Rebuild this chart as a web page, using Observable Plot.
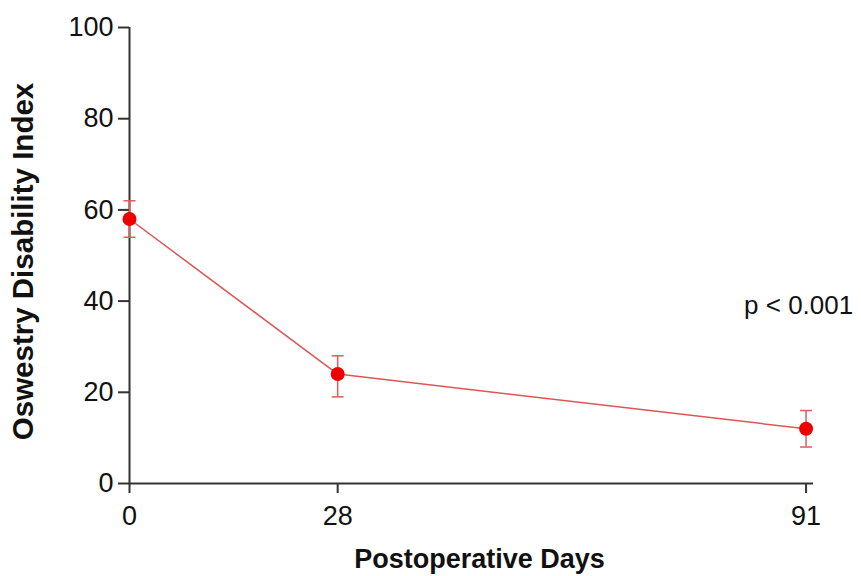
<!DOCTYPE html>
<html>
<head>
<meta charset="utf-8">
<script src="https://cdn.jsdelivr.net/npm/d3@7"></script>
<script src="https://cdn.jsdelivr.net/npm/@observablehq/plot@0.6"></script>
<style>
  body { margin: 0; background: #fff; }
  #chart svg { font-family: Arial, "Liberation Sans", sans-serif; }
</style>
</head>
<body>
<div id="chart"></div>
<script>
const days = [0, 28, 91];
const odiMean = [58, 24, 12];
const odiLow = [54, 19, 8];
const odiHigh = [62, 28, 16];
const xTicks = [0, 28, 91];
const yTicks = [0, 20, 40, 60, 80, 100];
const xLabel = "Postoperative Days";
const yLabel = "Oswestry Disability Index";
const annotation = [{day: 90, value: 39, label: "p < 0.001"}];

const data = days.map((d, i) => ({day: d, mean: odiMean[i], lo: odiLow[i], hi: odiHigh[i]}));

const capSymbol = {
  draw(ctx, size) {
    const w = Math.sqrt(size / Math.PI);
    ctx.moveTo(-w, 0);
    ctx.lineTo(w, 0);
  }
};

const lineColor = "#dd5555";
const errColor = "#e05a5a";
const dotColor = "#ee0000";
const axisColor = "#333333";

const chart = Plot.plot({
  width: 861,
  height: 576,
  marginLeft: 129,
  marginRight: 48,
  marginTop: 27,
  marginBottom: 93,
  style: {fontSize: "27px", fontFamily: "Arial, 'Liberation Sans', sans-serif", color: "#111", background: "#fff"},
  x: {domain: [0, 92], ticks: xTicks},
  y: {domain: [0, 100], ticks: yTicks},
  marks: [
    Plot.axisY({ticks: yTicks, tickSize: 11, tickPadding: 5, label: null, stroke: axisColor, strokeWidth: 2, fontSize: 27}),
    Plot.axisX({ticks: xTicks, tickSize: 10, tickPadding: 12, label: null, stroke: axisColor, strokeWidth: 2, fontSize: 27}),
    Plot.ruleX([0], {y1: 0, y2: 100, stroke: axisColor, strokeWidth: 2}),
    Plot.ruleY([0], {x1: 0, x2: 92, stroke: axisColor, strokeWidth: 2}),
    Plot.line(data, {x: "day", y: "mean", stroke: lineColor, strokeWidth: 1.5}),
    Plot.ruleX(data, {x: "day", y1: "lo", y2: "hi", stroke: errColor, strokeWidth: 1.5}),
    Plot.dot(data, {x: "day", y: "lo", symbol: capSymbol, r: 6, stroke: errColor, strokeWidth: 1.5, fill: "none"}),
    Plot.dot(data, {x: "day", y: "hi", symbol: capSymbol, r: 6, stroke: errColor, strokeWidth: 1.5, fill: "none"}),
    Plot.dot(data, {x: "day", y: "mean", r: 7, fill: dotColor, stroke: "none"}),
    Plot.text(annotation, {x: "day", y: "value", text: "label", fontSize: 26, fill: "#111", textAnchor: "middle", lineAnchor: "middle"}),
    Plot.text([xLabel], {text: d => d, frameAnchor: "bottom", dx: 8, dy: 76, fontSize: 27, fontWeight: "bold", fill: "#111", textAnchor: "middle", lineAnchor: "middle"}),
    Plot.text([yLabel], {text: d => d, frameAnchor: "left", dx: -106, dy: 6, rotate: -90, fontSize: 29.5, fontWeight: "bold", fill: "#111", textAnchor: "middle", lineAnchor: "middle"})
  ]
});
document.getElementById("chart").appendChild(chart);
</script>
</body>
</html>
